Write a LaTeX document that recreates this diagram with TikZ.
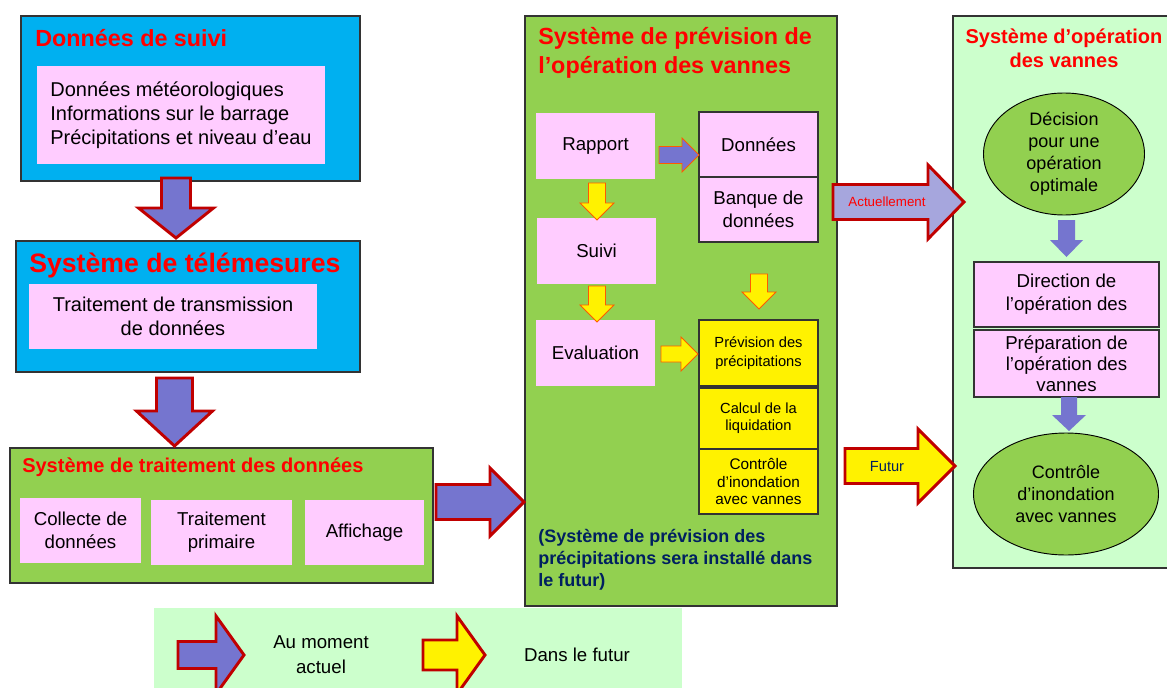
\documentclass[tikz,border=0pt]{standalone}
\usepackage{fontspec}
\setmainfont{Liberation Sans}
\usetikzlibrary{shapes.geometric}
\definecolor{boxblue}{HTML}{00B0F0}
\definecolor{boxgreen}{HTML}{92D050}
\definecolor{boxpink}{HTML}{FFCCFF}
\definecolor{boxlight}{HTML}{CCFFCC}
\definecolor{arrblue}{HTML}{7575CF}
\definecolor{arrlav}{HTML}{A6A6DD}
\definecolor{darkred}{HTML}{C00000}
\definecolor{titred}{HTML}{FF0000}
\definecolor{navy}{HTML}{002060}
\definecolor{orng}{HTML}{FF5A00}
\definecolor{edgec}{HTML}{333333}
\newcommand\FS[2]{\fontsize{#1}{#2}\selectfont}
\newcommand\Bx[7][]{\node[inner sep=0pt,outer sep=0pt,minimum width={(#5-#3)*0.75pt},minimum height={(#6-#4)*0.75pt},align=center,#1] (#2) at ({(#3+#5)/2},{(#4+#6)/2}) {#7};}
\newcommand\BlkR[7][]{\draw[#1] (#2,{#5-#6}) -- (#3,{#5-#6}) -- (#3,{#5-#7}) -- (#4,#5) -- (#3,{#5+#7}) -- (#3,{#5+#6}) -- (#2,{#5+#6}) -- cycle;}
\newcommand\BlkD[7][]{\draw[#1] ({#2-#6},#3) -- ({#2+#6},#3) -- ({#2+#6},#4) -- ({#2+#7},#4) -- (#2,#5) -- ({#2-#7},#4) -- ({#2-#6},#4) -- cycle;}
\begin{document}
\begin{tikzpicture}[x=0.75pt,y=-0.75pt,
 container/.style={draw=edgec, line width=0.9pt},
 pinkbox/.style={fill=boxpink},
 framed/.style={fill=boxpink, draw=edgec, line width=0.9pt},
 yelbox/.style={fill=yellow, draw=edgec, line width=0.9pt},
 oval/.style={ellipse, fill=boxgreen, draw=black, line width=0.7pt, inner sep=0pt, align=center, font=\FS{13.5}{16.5}},
 bigarr/.style={draw=darkred, line width=2.2pt, line join=miter},
 smallarr/.style={draw=orng, line width=0.6pt, line join=miter},
 flatarr/.style={fill=arrblue, draw=none},
 title/.style={text=titred, inner sep=0pt},
 body/.style={font=\FS{14}{17.5}},
]
\useasboundingbox (0,0) rectangle (1167,688);

% Left column
\Bx[container, fill=boxblue]{suivi}{21}{16}{360}{181}{}
\node[title, anchor=west, font=\bfseries\FS{17.5}{20}] (suivit) at (35,38) {Données de suivi};
\Bx[pinkbox, font=\FS{15}{18}, align=left]{suivib}{37}{66}{325}{164}{Données météorologiques\\Informations sur le barrage\\Précipitations et niveau d’eau}

\Bx[container, fill=boxblue]{tele}{16}{241}{360}{372}{}
\node[title, anchor=west, font=\bfseries\FS{20}{24}] (telet) at (29,265) {Système de télémesures};
\Bx[pinkbox, font=\FS{15}{18}]{teleb}{29}{284}{317}{349}{Traitement de transmission\\de données}

\Bx[container, fill=boxgreen]{trait}{10}{448}{433}{583}{}
\node[title, anchor=west, font=\bfseries\FS{15}{18}] (traitt) at (22,467) {Système de traitement des données};
\Bx[pinkbox, body]{coll}{20}{498}{141}{563}{Collecte de\\données}
\Bx[pinkbox, body]{prim}{151}{500}{292}{565}{Traitement\\primaire}
\Bx[pinkbox, body]{aff}{305}{500}{424}{565}{Affichage}

% Center column
\Bx[container, fill=boxgreen]{prev}{525}{16}{837}{606}{}
\node[title, anchor=west, align=left, font=\bfseries\FS{17.5}{21.75}] (prevt) at (538,52.5) {Système de prévision de\\l’opération des vannes};
\Bx[pinkbox, body]{rapport}{536}{113}{655}{179}{Rapport}
\Bx[framed, body]{donnees}{699}{112}{818}{177}{Données}
\Bx[framed, body]{banque}{699}{177}{818}{242}{Banque de\\données}
\Bx[pinkbox, body]{suivibx}{537}{218}{656}{284}{Suivi}
\Bx[pinkbox, body]{eval}{536}{320}{655}{386}{Evaluation}
\Bx[yelbox, font=\FS{11}{14}]{prevp}{699}{320}{818}{386}{Prévision des\\précipitations}
\Bx[yelbox, font=\FS{11}{13}]{calcul}{699}{388}{818}{449}{Calcul de la\\liquidation}
\Bx[yelbox, font=\FS{11.5}{13.2}]{ctrl}{699}{449}{818}{514}{Contrôle\\d’inondation\\avec vannes}
\node[anchor=west, inner sep=0pt, align=left, text=navy, font=\bfseries\FS{13.5}{16.5}] (note) at (538,560) {(Système de prévision des\\précipitations sera installé dans\\le futur)};

% Right column
\Bx[container, fill=boxlight]{ops}{953}{16}{1180}{568}{}
\node[title, align=center, font=\bfseries\FS{15}{18}] (opst) at (1064,48) {Système d’opération\\des vannes};
\node[oval, minimum width={161*0.75pt}, minimum height={122*0.75pt}] (dec) at (1064,154) {Décision\\pour une\\opération\\optimale};
\Bx[framed, font=\FS{14}{17.5}]{dir}{974}{262}{1159}{327}{Direction de\\l’opération des}
\Bx[framed, font=\FS{14}{15.75}]{prep}{974}{330}{1159}{397}{Préparation de\\l’opération des\\vannes}
\node[oval, minimum width={185*0.75pt}, minimum height={122*0.75pt}] (ctrlv) at (1066,494) {Contrôle\\d’inondation\\avec vannes};

% Legend
\Bx[fill=boxlight]{leg}{154}{608}{682}{692}{}
\node[align=center, font=\FS{14}{18.75}] (legA) at (321,655) {Au moment\\actuel};
\node[body] (legB) at (577,655) {Dans le futur};

% Big arrows
\BlkD[bigarr, fill=arrblue]{176}{178}{208}{238}{14.5}{37.5}
\BlkD[bigarr, fill=arrblue]{174.5}{378}{411}{446}{18}{38}
\BlkR[bigarr, fill=arrblue]{436}{490}{524}{502}{17.5}{34}
\BlkR[bigarr, fill=arrlav]{833}{928}{964}{202}{17.5}{37}
\BlkR[bigarr, fill=yellow]{845}{918}{955}{466}{17.5}{37}
\BlkR[bigarr, fill=arrblue]{178}{216}{244}{655}{13.5}{39}
\BlkR[bigarr, fill=yellow]{423}{457}{485}{655}{15}{39}
\node[text=titred, font=\FS{10}{12}] (actl) at (887,202) {Actuellement};
\node[text=navy, font=\FS{11}{13}] (futl) at (887,467) {Futur};

% Small arrows inside
\BlkR[smallarr, fill=arrblue]{659}{682}{699}{155}{8.5}{17}
\BlkD[smallarr, fill=yellow]{597}{183}{203}{220}{8.5}{17}
\BlkD[smallarr, fill=yellow]{597}{286}{305}{322}{8.5}{17}
\BlkD[smallarr, fill=yellow]{759}{274}{292}{309}{8.5}{17}
\BlkR[smallarr, fill=yellow]{661}{681}{698}{354}{8}{17}
\BlkD[flatarr]{1066.5}{220}{240}{257}{8.5}{16.5}
\BlkD[flatarr]{1069}{397}{415}{431}{8}{17}
\end{tikzpicture}
\end{document}
